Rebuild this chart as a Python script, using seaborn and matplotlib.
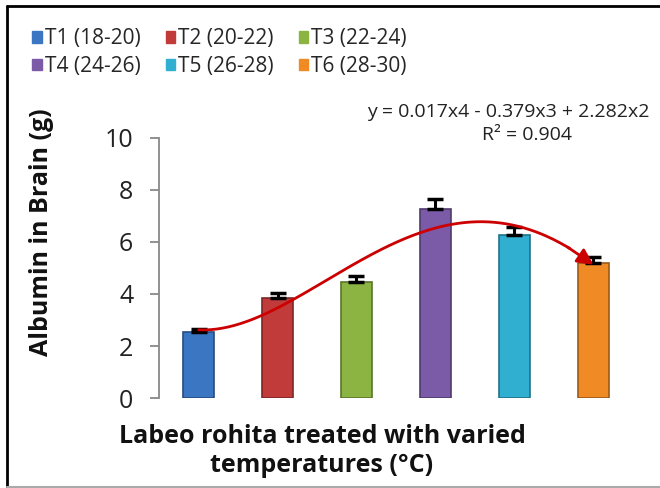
import numpy as np
import pandas as pd
import matplotlib
matplotlib.use("Agg")
import matplotlib.pyplot as plt
import seaborn as sns
from matplotlib.lines import Line2D
from matplotlib.patches import Patch

categories = ["T1 (18-20)", "T2 (20-22)", "T3 (22-24)", "T4 (24-26)", "T5 (26-28)", "T6 (28-30)"]
values = [2.55, 3.83, 4.47, 7.27, 6.27, 5.20]
errors = [0.12, 0.20, 0.23, 0.37, 0.32, 0.23]
colors = ["#3b76c3", "#c23b3b", "#8cb443", "#7b5aa7", "#31afd0", "#f08a25"]
yticks = [0, 2, 4, 6, 8, 10]

sns.set_theme(style="white")
plt.rcParams['font.family'] = ['Open Sans', 'DejaVu Sans']

fig = plt.figure(figsize=(6.6, 4.88), dpi=100)
ax = fig.add_axes([159/660, 1-398/488, (633-159)/660, (398-138)/488])

df = pd.DataFrame({"cat": categories, "val": values})
sns.barplot(data=df, x="cat", y="val", hue="cat", palette=colors, width=0.4,
            dodge=False, legend=False, ax=ax, edgecolor="none", saturation=1)
for p, c in zip(ax.patches, colors):
    r, g, b = matplotlib.colors.to_rgb(c)
    p.set_edgecolor((r*0.65, g*0.65, b*0.65))
    p.set_linewidth(1.2)

xs = np.arange(len(values))
ax.errorbar(xs, values, yerr=[np.zeros(len(errors)), errors], fmt="none",
            ecolor="black", elinewidth=2.2, capsize=5.5, capthick=2.5, zorder=5)

# 4th order polynomial trendline
coef = np.polyfit(xs, values, 4)
xx = np.linspace(0, len(values) - 1, 200)
yy = np.polyval(coef, xx)
ax.plot(xx[:-12], yy[:-12], color="#cc0000", lw=2, zorder=6)
ax.annotate("", xy=(xx[-1], yy[-1]), xytext=(xx[-14], yy[-14]),
            arrowprops=dict(arrowstyle="-|>,head_length=0.8,head_width=0.4",
                            color="#cc0000", lw=2, shrinkA=0, shrinkB=0), zorder=7)

ax.set_xlim(-0.5, len(values) - 0.5)
ax.set_ylim(0, 10)
ax.set_yticks(yticks)
ax.set_yticklabels([str(t) for t in yticks], fontsize=18, color="#222222")
ax.set_xticks([])
ax.set_xlabel("")
ax.set_ylabel("")
for s in ["top", "right", "bottom"]:
    ax.spines[s].set_visible(False)
ax.spines["left"].set_color("#888888")
ax.spines["left"].set_linewidth(1.3)
ax.tick_params(axis="y", direction="out", length=6.5, width=1.3, color="#888888", left=True, pad=12)

fig.text(42/660, 1-232/488, "Albumin in Brain (g)", rotation=90, ha="center", va="center",
         fontsize=18, fontweight="bold", color="#111111")
fig.text(322/660, 1-451/488, "Labeo rohita treated with varied\ntemperatures (°C)", ha="center",
         va="center", fontsize=18, fontweight="bold", color="#111111", linespacing=1.25)

fig.text(508/660, 1-112/488, "y = 0.017x4 - 0.379x3 + 2.282x2", ha="center", va="center",
         fontsize=14, color="#222222")
fig.text(527/660, 1-135/488, "R² = 0.904", ha="center", va="center",
         fontsize=14, color="#222222")

order = [0, 3, 1, 4, 2, 5]
handles = [Patch(facecolor=colors[i], edgecolor=colors[i]) for i in order]
labels = [categories[i] for i in order]
fig.legend(handles, labels, ncol=3, loc="upper left", bbox_to_anchor=(24/660, 1-20/488),
           frameon=False, fontsize=15, handlelength=0.45, handleheight=0.45, handletextpad=0.15,
           columnspacing=1.2, labelspacing=0.3, borderaxespad=0)

# outer frame lines
fig.add_artist(Line2D([7/660, 7/660], [0, 1-6/488], color="black", lw=2, transform=fig.transFigure))
fig.add_artist(Line2D([7/660, 1], [1-6/488, 1-6/488], color="black", lw=2, transform=fig.transFigure))
fig.add_artist(Line2D([7/660, 1], [1/488, 1/488], color="#aaaaaa", lw=1.5, transform=fig.transFigure))

fig.savefig("out.png", dpi=100)
